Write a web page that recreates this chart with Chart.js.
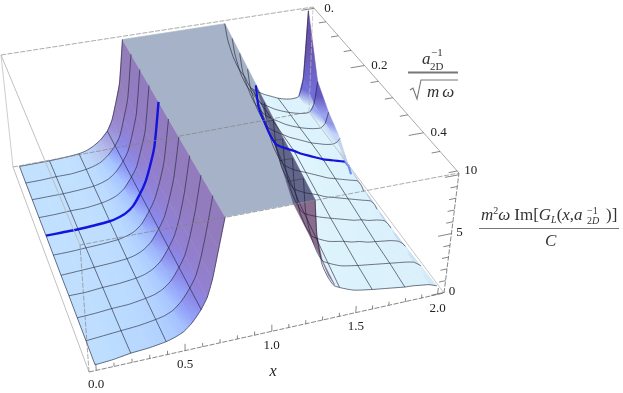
<!DOCTYPE html>
<html>
<head>
<meta charset="utf-8">
<title>Im G surface</title>
<script src="https://cdn.jsdelivr.net/npm/chart.js@4"></script>
<style>
  html, body { margin: 0; padding: 0; background: #fff; }
  canvas { display: block; }
</style>
</head>
<body>
<canvas id="plot" width="623" height="393"></canvas>
<script>
// values
const aLines = [0, 0.05, 0.1, 0.15, 0.2, 0.25, 0.3, 0.35, 0.4, 0.45, 0.5];
const leftX = [0, 0.1, 0.2, 0.3, 0.4, 0.45, 0.5, 0.55, 0.6, 0.635, 0.665, 0.7, 0.735];
const zLeft = [
    [0.05, 0.05, 0.05, 0.1, 0.2, 0.35, 0.65, 1.1, 1.8, 2.7, 4.1, 6.0, 10],
    [0.05, 0.05, 0.1, 0.1, 0.25, 0.4, 0.65, 1.15, 1.9, 2.7, 4.1, 6.0, 10],
    [0.1, 0.1, 0.1, 0.15, 0.25, 0.4, 0.65, 1.15, 2.0, 2.8, 4.1, 6.0, 10],
    [0.1, 0.1, 0.15, 0.15, 0.3, 0.45, 0.7, 1.2, 2.1, 2.9, 4.2, 6.0, 10],
    [0.15, 0.15, 0.15, 0.2, 0.3, 0.45, 0.7, 1.2, 2.2, 3.1, 4.3, 6.1, 10],
    [0.15, 0.15, 0.2, 0.25, 0.35, 0.5, 0.75, 1.3, 2.3, 3.2, 4.4, 6.3, 10],
    [0.15, 0.2, 0.25, 0.3, 0.4, 0.55, 0.85, 1.4, 2.4, 3.3, 4.6, 6.6, 10],
    [0.2, 0.2, 0.3, 0.35, 0.5, 0.65, 0.95, 1.5, 2.5, 3.4, 4.7, 6.9, 10],
    [0.2, 0.25, 0.35, 0.4, 0.6, 0.75, 1.05, 1.6, 2.6, 3.5, 4.9, 7.1, 10],
    [0.2, 0.3, 0.4, 0.5, 0.7, 0.85, 1.15, 1.75, 2.7, 3.6, 5.0, 7.3, 10],
    [0.2, 0.3, 0.5, 0.6, 0.8, 1.0, 1.3, 1.9, 2.8, 3.7, 5.1, 7.5, 10]
];
// right side: x where the wall leaves z = 10, for each aLines entry
const rightWallX = [1.42, 1.40, 1.38, 1.36, 1.34, 1.32, 1.30, 1.28, 1.26, 1.245, 1.23];
const rightWallDx = [0, 0.02, 0.06, 0.1, 0.14];
const rightX = [1.6, 1.65, 1.7, 1.75, 1.8, 1.85, 1.9, 1.95, 1.98, 2.0];
const zRight = [
    [10, 8.4, 6.6, 5.4, 4.6, 4.0, 3.5, 3.0, 2.6, 2.3, 2.0, 1.8, 1.7, 1.8, 3.5, 10],
    [10, 8.4, 6.5, 5.3, 4.5, 3.9, 3.4, 3.0, 2.6, 2.3, 2.05, 1.85, 1.7, 1.7, 2.4, 4.5],
    [10, 8.3, 6.5, 5.2, 4.4, 3.8, 3.4, 3.0, 2.6, 2.3, 2.05, 1.85, 1.7, 1.65, 2.0, 3.0],
    [10, 8.2, 6.4, 5.2, 4.3, 3.8, 3.4, 3.0, 2.7, 2.4, 2.1, 1.9, 1.7, 1.6, 1.7, 2.0],
    [10, 8.0, 6.5, 5.2, 4.3, 3.8, 3.4, 3.0, 2.7, 2.4, 2.1, 1.9, 1.7, 1.5, 1.0, 0.2],
    [10, 7.9, 6.0, 4.8, 4.0, 3.4, 3.0, 2.7, 2.4, 2.1, 1.9, 1.7, 1.5, 1.3, 0.8, 0.2],
    [10, 7.8, 5.7, 4.5, 3.6, 3.0, 2.6, 2.3, 2.1, 1.9, 1.7, 1.5, 1.3, 1.1, 0.7, 0.2],
    [10, 7.6, 5.4, 4.1, 3.2, 2.6, 2.2, 2.0, 1.8, 1.6, 1.5, 1.3, 1.2, 1.0, 0.6, 0.2],
    [10, 7.4, 5.1, 3.8, 2.9, 2.2, 1.9, 1.7, 1.6, 1.4, 1.3, 1.2, 1.1, 0.9, 0.6, 0.3],
    [10, 7.2, 4.9, 3.5, 2.6, 1.9, 1.6, 1.5, 1.4, 1.3, 1.2, 1.1, 1.0, 0.85, 0.6, 0.4],
    [10, 7.0, 4.4, 3.2, 2.4, 1.7, 1.4, 1.3, 1.2, 1.1, 1.0, 0.95, 0.85, 0.75, 0.6, 0.5]
];
// mesh line x = 1.4 only exists below the cap
const line14A = [0.15, 0.2, 0.25, 0.3, 0.35, 0.4, 0.45, 0.5];
const line14Z = [8.0, 6.8, 5.8, 4.9, 4.0, 3.4, 2.8, 2.2];
// flat clipped cap at z = 10
const capX = [0.735, 0.735, 1.23, 1.42];
const capA = [0, 0.5, 0.5, 0];
const capDarkX = [1.34, 1.11, 1.23];
const capDarkA = [0.2, 0.5, 0.5];
const frontWallX = [1.11, 1.23, 1.25, 1.29, 1.33, 1.37];
const frontWallZ = [10, 10, 7, 4.7, 3.4, 2.5];
const xTicks = [0, 0.5, 1, 1.5, 2];
const xTickLabels = ['0.0', '0.5', '1.0', '1.5', '2.0'];
const aTicks = [0, 0.2, 0.4];
const aTickLabels = ['0.', '0.2', '0.4'];
const zTicks = [0, 5, 10];
const zTickLabels = ['0', '5', '10'];
const blueLineIndex = 4;

// box corners on screen, [a low / a high][z low / z high][x low / x high]
const corners = [
    [[[13, 167], [309, 112]], [[1, 55], [313, 7]]],
    [[[89, 372], [444, 293]], [[80, 245], [459, 173]]]
];

function project(x, a, z) {
    const s = (x + 0.04) / 2.08;
    const u = s * 1.06 / (1 - s + s * 1.06);
    const t = (a + 0.005) / 0.51;
    const v = t * 0.81 / (1 - t + t * 0.81);
    const w = (z + 0.05) / 10.2;
    const out = { x: 0, y: 0 };
    [0, 1].forEach(i => [0, 1].forEach(j => [0, 1].forEach(k => {
        const f = (i ? v : 1 - v) * (j ? w : 1 - w) * (k ? u : 1 - u);
        out.x += f * corners[i][j][k][0];
        out.y += f * corners[i][j][k][1];
    })));
    return out;
}

function rightRowX(i) {
    const wall = rightWallDx.map(d => rightWallX[i] + d);
    const mid = (wall[wall.length - 1] + rightX[0]) / 2;
    return wall.concat([mid], rightX);
}

function mix(stops, s) {
    if (s <= stops[0][0]) return stops[0].slice(1);
    for (let n = 1; n < stops.length; n++) {
        if (s <= stops[n][0]) {
            const f = (s - stops[n - 1][0]) / (stops[n][0] - stops[n - 1][0]);
            return [1, 2, 3].map(c => stops[n - 1][c] + f * (stops[n][c] - stops[n - 1][c]));
        }
    }
    return stops[stops.length - 1].slice(1);
}

function rgb(c, alpha) {
    return 'rgba(' + c.map(Math.round).join(',') + ',' + (alpha === undefined ? 1 : alpha) + ')';
}

// left surface colour goes with height
const leftStops = [[0.1, 194, 225, 255], [0.5, 184, 216, 255], [1.2, 165, 195, 255], [2.2, 136, 140, 244], [3.5, 146, 128, 210], [7, 146, 124, 190]];
// the back row of the left surface is greyer
const leftBackStops = [[0.1, 194, 225, 255], [0.4, 190, 205, 240], [1.0, 190, 175, 215], [3, 165, 140, 190], [7, 146, 124, 180]];
// right surface: pale, except the rising spike and the falling shoulder
const rightWallStops = [[1, 218, 241, 252], [4, 226, 246, 253], [8, 226, 240, 248], [10, 205, 212, 228]];
const spikeStops = [[1.7, 214, 236, 250], [2.4, 130, 135, 235], [3.5, 95, 85, 200], [5, 85, 60, 160], [10, 120, 95, 170]];
const shoulderStops = [[-25, 176, 190, 220], [-5, 214, 238, 250]];

const gradCtx = document.createElement('canvas').getContext('2d');
function quadGradient(p0, p1, c0, c1) {
    const g = gradCtx.createLinearGradient(p0.x, p0.y, p1.x + 0.01, p1.y + 0.01);
    g.addColorStop(0, c0);
    g.addColorStop(1, c1);
    return g;
}

const paint = [];
function addPoly(pts, fill, border, width) {
    paint.push({
        data: pts.concat([pts[0]]), showLine: true, pointRadius: 0, tension: 0,
        fill: 'shape', backgroundColor: fill, borderColor: border || fill, borderWidth: width === undefined ? 0.6 : width
    });
}
function addLine(pts, color, width, dash, tension) {
    paint.push({
        data: pts, showLine: true, pointRadius: 0, tension: tension || 0, fill: false,
        borderColor: color, borderWidth: width, borderDash: dash || []
    });
}

// one strip of surface between two a lines
function addStrip(i, xsFor, zs, colourFor, reverse) {
    const xa = xsFor(i), xb = xsFor(i + 1);
    const ca = colourFor(i, xa), cb = colourFor(i + 1, xb);
    const cols = xa.slice(1).map((_, j) => j);
    if (reverse) cols.reverse();
    cols.forEach(j => {
        const p00 = project(xa[j], aLines[i], zs[i][j]);
        const p01 = project(xa[j + 1], aLines[i], zs[i][j + 1]);
        const p10 = project(xb[j], aLines[i + 1], zs[i + 1][j]);
        const p11 = project(xb[j + 1], aLines[i + 1], zs[i + 1][j + 1]);
        const m0 = { x: (p00.x + p10.x) / 2, y: (p00.y + p10.y) / 2 };
        const m1 = { x: (p01.x + p11.x) / 2, y: (p01.y + p11.y) / 2 };
        const c0 = [0, 1, 2].map(n => (ca[j][n] + cb[j][n]) / 2);
        const c1 = [0, 1, 2].map(n => (ca[j + 1][n] + cb[j + 1][n]) / 2);
        addPoly([p00, p01, p11, p10], quadGradient(m0, m1, rgb(c0), rgb(c1)));
    });
}

function leftColours(i) {
    return zLeft[i].map(z => mix(i === 0 ? leftBackStops : leftStops, z));
}
function rightColours(i, xs) {
    return zRight[i].map((z, j) => {
        if (j < 6) return mix(rightWallStops, z);
        const rising = j >= 14 && zRight[i][15] > zRight[i][13];
        if (rising) return mix(spikeStops, z);
        if (j >= 14) return mix(shoulderStops, (zRight[i][15] - zRight[i][13]) / 0.05);
        return mix(rightWallStops, z);
    });
}

function rowPoints(xs, zs, i) {
    return xs.map((x, j) => project(x, aLines[i], zs[j]));
}

// surfaces, back to front
aLines.slice(1).forEach((_, i) => addStrip(i, () => leftX, zLeft, leftColours, false));
aLines.slice(1).forEach((_, i) => addStrip(i, rightRowX, zRight, rightColours, true));

// front wall piece and cap
addPoly(frontWallX.map((x, j) => project(x, 0.5, frontWallZ[j])), 'rgb(138,108,142)');
addPoly(capX.map((x, j) => project(x, capA[j], 10)), 'rgb(166,178,199)');
addPoly(capDarkX.map((x, j) => project(x, capDarkA[j], 10)), 'rgb(98,102,138)');

// mesh
const meshColor = 'rgba(25,25,45,0.85)';
aLines.forEach((_, i) => {
    if (i === blueLineIndex) return;
    addLine(rowPoints(leftX, zLeft[i], i), meshColor, 0.7, [], 0.2);
    addLine(rowPoints(rightRowX(i), zRight[i], i), meshColor, 0.7, [], 0.2);
});
[0, 2, 4, 8].forEach(j => {
    addLine(aLines.map((a, i) => project(leftX[j], a, zLeft[i][j])), meshColor, 0.7);
});
[6, 10].forEach(j => {
    addLine(aLines.map((a, i) => project(rightRowX(i)[j], a, zRight[i][j])), meshColor, 0.7);
});
addLine(line14A.map((a, i) => project(1.4, a, line14Z[i])), meshColor, 0.7);
// mesh seen through the dark part of the cap
[6, 7, 8, 9].forEach(i => {
    const f = (aLines[i] - capDarkA[0]) / (capDarkA[1] - capDarkA[0]);
    const from = capDarkX[0] + f * (capDarkX[1] - capDarkX[0]);
    addLine([project(from, aLines[i], 10), project(rightWallX[i], aLines[i], 10)], 'rgba(30,30,50,0.55)', 0.7);
});

// the blue a line; its last bit drops behind the shoulder and shows paler
const blueRightX = rightRowX(blueLineIndex);
const blueRight = rowPoints(blueRightX, zRight[blueLineIndex], blueLineIndex);
addLine(rowPoints(leftX, zLeft[blueLineIndex], blueLineIndex), '#1414dc', 2.4, [], 0.3);
addLine(blueRight.slice(-3), '#6f8cf0', 2.2);
addLine(blueRight.slice(0, -2), '#1414dc', 2.2, [], 0.25);

// box
const lo = { x: -0.04, a: -0.005, z: -0.05 }, hi = { x: 2.04, a: 0.505, z: 10.15 };
const boxDark = 'rgba(95,95,95,0.95)', boxMid = 'rgba(130,130,130,0.85)', boxLight = 'rgba(185,185,185,0.9)';
const dash = [5, 1.5];
function edge(p, q, color, width, d) {
    addLine([project(p[0], p[1], p[2]), project(q[0], q[1], q[2])], color, width, d);
}
edge([lo.x, lo.a, hi.z], [hi.x, lo.a, hi.z], boxMid, 0.8, dash);
edge([lo.x, lo.a, lo.z], [hi.x, lo.a, lo.z], boxMid, 0.8, dash);
edge([lo.x, lo.a, lo.z], [lo.x, lo.a, hi.z], boxLight, 0.8);
edge([hi.x, lo.a, lo.z], [hi.x, lo.a, hi.z], boxLight, 0.8, dash);
edge([lo.x, lo.a, hi.z], [lo.x, hi.a, hi.z], boxLight, 1);
edge([lo.x, lo.a, lo.z], [lo.x, hi.a, lo.z], boxLight, 1);
edge([hi.x, lo.a, lo.z], [hi.x, hi.a, lo.z], boxLight, 0.9);
edge([hi.x, lo.a, hi.z], [hi.x, hi.a, hi.z], 'rgba(160,160,160,1)', 0.9);
edge([lo.x, hi.a, hi.z], [hi.x, hi.a, hi.z], boxMid, 0.8, dash);
edge([lo.x, hi.a, lo.z], [hi.x, hi.a, lo.z], boxDark, 0.8, dash);
edge([lo.x, hi.a, lo.z], [lo.x, hi.a, hi.z], boxMid, 0.8, dash);
edge([hi.x, hi.a, lo.z], [hi.x, hi.a, hi.z], boxDark, 0.8, dash);

// ticks: every 0.1 in x, 0.05 in a, 1 in z, longer on the labelled ones
for (let n = 0; n <= 20; n++) {
    const x = n / 10;
    edge([x, hi.a, lo.z], [x, hi.a, lo.z + (n % 5 === 0 ? 0.55 : 0.3)], boxDark, 0.8);
}
for (let n = 0; n <= 10; n++) {
    const a = n * 0.05;
    edge([hi.x, a, hi.z], [hi.x - (n % 4 === 0 ? 0.09 : 0.05), a, hi.z], boxDark, 0.8);
}
for (let n = 0; n <= 10; n++) {
    edge([hi.x, hi.a, n], [hi.x - (n % 5 === 0 ? 0.08 : 0.04), hi.a, n], boxDark, 0.8);
}

// axis text and fractions
const serif = '"Liberation Serif", "DejaVu Serif", serif';
function run(ctx, x, y, parts) {
    parts.forEach(part => {
        ctx.font = (part.i ? 'italic ' : '') + part.s + 'px ' + serif;
        ctx.fillText(part.t, x, y + (part.d || 0));
        x += ctx.measureText(part.t).width + (part.g || 0);
    });
}

const textPlugin = {
    id: 'axisText',
    afterDatasetsDraw(chart) {
        const ctx = chart.ctx;
        ctx.save();
        ctx.fillStyle = '#222';
        ctx.textBaseline = 'middle';
        ctx.textAlign = 'center';
        ctx.font = '13px ' + serif;
        xTicks.forEach((x, i) => {
            const p = project(x, hi.a, lo.z);
            ctx.fillText(xTickLabels[i], p.x, p.y + 14);
        });
        aTicks.forEach((a, i) => {
            const p = project(hi.x, a, hi.z);
            ctx.fillText(aTickLabels[i], p.x + 15, p.y);
        });
        zTicks.forEach((z, i) => {
            const p = project(hi.x, hi.a, z);
            ctx.fillText(zTickLabels[i], p.x + (z === 10 ? 12 : 8), p.y + (z === 10 ? -4 : -1));
        });
        ctx.font = 'italic 16px ' + serif;
        ctx.fillText('x', 273, 372);

        ctx.textAlign = 'left';
        ctx.textBaseline = 'alphabetic';
        ctx.fillStyle = '#333';
        // a_2D^-1 over sqrt(m omega)
        run(ctx, 422, 64, [{ t: 'a', i: true, s: 17 }]);
        run(ctx, 431, 56, [{ t: '\u22121', s: 11 }]);
        run(ctx, 430, 70, [{ t: '2D', s: 11 }]);
        run(ctx, 427, 97, [{ t: 'm', i: true, s: 17, g: 3 }, { t: '\u03c9', i: true, s: 17 }]);
        ctx.strokeStyle = '#777';
        ctx.lineWidth = 1.8;
        ctx.beginPath();
        ctx.moveTo(408, 72.5);
        ctx.lineTo(458, 72.5);
        ctx.stroke();
        ctx.lineWidth = 1.1;
        ctx.beginPath();
        ctx.moveTo(410, 90);
        ctx.lineTo(413, 88);
        ctx.lineTo(417, 99);
        ctx.lineTo(421, 80);
        ctx.lineTo(458, 80);
        ctx.stroke();
        // m^2 omega Im[G_L(x, a_2D^-1)] over C
        run(ctx, 481, 220, [
            { t: 'm', i: true, s: 17 }, { t: '2', s: 10, d: -6 }, { t: '\u03c9', i: true, s: 17, g: 4 },
            { t: 'Im[', s: 17 }, { t: 'G', i: true, s: 17 }, { t: 'L', i: true, s: 10, d: 3 },
            { t: '(', s: 17 }, { t: 'x', i: true, s: 17 }, { t: ',', s: 17 }, { t: 'a', i: true, s: 17 }
        ]);
        run(ctx, 587, 214, [{ t: '\u22121', s: 10 }]);
        run(ctx, 587, 224, [{ t: '2', s: 10 }, { t: 'D', i: true, s: 10 }]);
        run(ctx, 606, 220, [{ t: ')]', s: 17 }]);
        ctx.lineWidth = 1;
        ctx.beginPath();
        ctx.moveTo(479, 228.5);
        ctx.lineTo(619, 228.5);
        ctx.stroke();
        run(ctx, 545, 246, [{ t: 'C', i: true, s: 17 }]);
        ctx.restore();
    }
};

// chart.js paints the first dataset last
new Chart(document.getElementById('plot'), {
    type: 'scatter',
    data: { datasets: paint.reverse() },
    options: {
        responsive: false,
        animation: false,
        events: [],
        layout: { padding: 0 },
        plugins: { legend: { display: false }, tooltip: { enabled: false } },
        scales: {
            x: { type: 'linear', min: 0, max: 623, display: false },
            y: { type: 'linear', min: 0, max: 393, reverse: true, display: false }
        }
    },
    plugins: [textPlugin]
});
</script>
</body>
</html>
